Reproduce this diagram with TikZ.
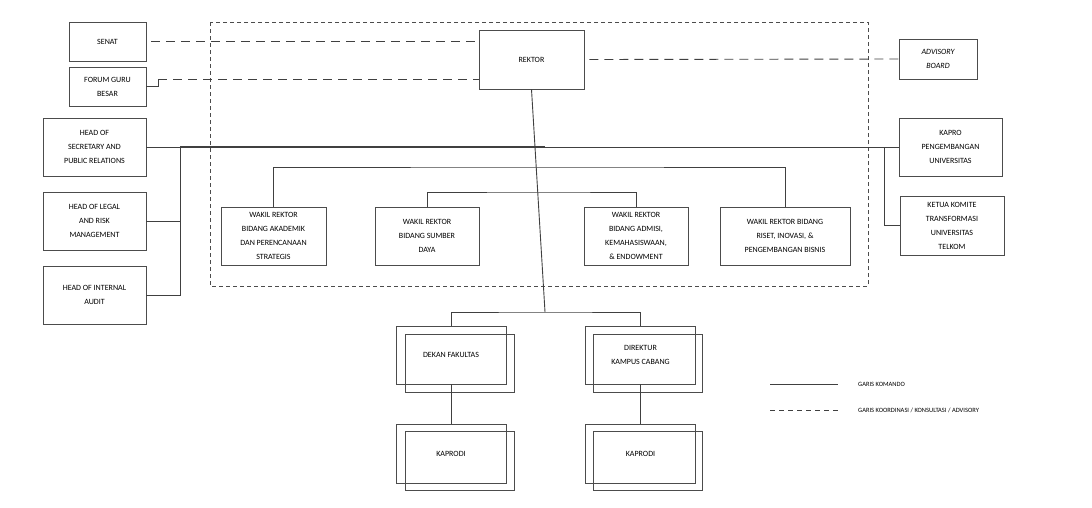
\documentclass[tikz,border=0pt]{standalone}
\usepackage{fontspec}
\setmainfont{Carlito}
\begin{document}
\begin{tikzpicture}[x=1pt,y=-1pt,
  box/.style={draw=black!70,line width=0.8pt,align=center,inner sep=1pt,font=\fontsize{8}{14}\selectfont},
  ln/.style={draw=black!75,line width=0.9pt},
  dsh/.style={draw=black!75,line width=0.9pt,dash pattern=on 9pt off 6pt}]
\useasboundingbox (0,0) rectangle (1092,507);
\draw[black!70,line width=0.8pt,dash pattern=on 4pt off 3pt] (210,22) rectangle (868,286);
\node[box,minimum width=77,minimum height=39] (senat) at (107.5,41.5) {SENAT};
\node[box,minimum width=77,minimum height=39] (forum) at (107.5,86.5) {FORUM GURU\\BESAR};
\node[box,minimum width=105,minimum height=59] (rektor) at (531.5,59.5) {REKTOR};
\node[box,minimum width=78,minimum height=40] (adv) at (938,59) {\itshape ADVISORY\\\itshape BOARD};
\node[box,minimum width=103,minimum height=58] (hsec) at (94.5,147) {HEAD OF\\SECRETARY AND\\PUBLIC RELATIONS};
\node[box,minimum width=103,minimum height=58] (hleg) at (94.5,221) {HEAD OF LEGAL\\AND RISK\\MANAGEMENT};
\node[box,minimum width=103,minimum height=58] (haud) at (94.5,295) {HEAD OF INTERNAL\\AUDIT};
\node[box,minimum width=103,minimum height=58] (kapro) at (950.5,147) {KAPRO\\PENGEMBANGAN\\UNIVERSITAS};
\node[box,minimum width=104,minimum height=59] (ketua) at (952,225.5) {KETUA KOMITE\\TRANSFORMASI\\UNIVERSITAS\\TELKOM};
\node[box,minimum width=105,minimum height=58] (wr1) at (273.5,236) {WAKIL REKTOR\\BIDANG AKADEMIK\\DAN PERENCANAAN\\STRATEGIS};
\node[box,minimum width=104,minimum height=58] (wr2) at (427,236) {WAKIL REKTOR\\BIDANG SUMBER\\DAYA};
\node[box,minimum width=104,minimum height=58] (wr3) at (636,236) {WAKIL REKTOR\\BIDANG ADMISI,\\KEMAHASISWAAN,\\\& ENDOWMENT};
\node[box,minimum width=130,minimum height=58] (wr4) at (785,236) {WAKIL REKTOR BIDANG\\RISET, INOVASI, \&\\PENGEMBANGAN BISNIS};
% double boxes
\node[box,minimum width=109,minimum height=58] (dekanb) at (459.5,363) {};
\node[box,minimum width=110,minimum height=58] (dekan) at (451,355) {DEKAN FAKULTAS};
\node[box,minimum width=109,minimum height=58] (direkb) at (648,363) {};
\node[box,minimum width=110,minimum height=58] (direk) at (640.5,355) {DIREKTUR\\KAMPUS CABANG};
\node[box,minimum width=109,minimum height=59] (kp1b) at (459.5,461) {};
\node[box,minimum width=110,minimum height=59] (kp1) at (451,453.5) {KAPRODI};
\node[box,minimum width=109,minimum height=59] (kp2b) at (648,461) {};
\node[box,minimum width=110,minimum height=59] (kp2) at (640.5,453.5) {KAPRODI};
% coordination lines
\draw[dsh] (senat.east) ++(5,0) -- (senat.east -| rektor.west);
\coordinate (fg) at (158,79);
\draw[ln,line width=0.7pt] (forum.east) -- (forum.east -| fg) -- (fg);
\draw[dsh] (fg) -- (fg -| rektor.west);
\draw[dsh] (rektor.east) ++(5,0) -- (adv.west);
% command lines
\coordinate (sv) at (180,147);
\coordinate (rk) at (545,147);
\draw[ln] (hsec.east) -- (sv);
\draw[ln] (sv) -- (sv |- haud.east) -- (haud.east);
\draw[ln] (hleg.east) -- (sv |- hleg.east);
\draw[ln,line width=1.6pt] (sv) -- (rk);
\draw[ln] (rk) -- (kapro.west);
\coordinate (kv) at (884,147);
\draw[ln] (kv) |- (ketua.west);
\coordinate (bt) at (545,312);
\draw[ln] (rektor.south) -- (bt);
\coordinate (w1) at (545,167);
\coordinate (w2) at (545,192);
\draw[ln] (wr1.north) |- (w1) -| (wr4.north);
\draw[ln] (wr2.north) |- (w2) -| (wr3.north);
\draw[ln] (dekan.north) |- (bt) -| (direk.north);
\draw[ln] (dekan.south) -- (kp1.north);
\draw[ln] (direk.south) -- (kp2.north);
% legend
\coordinate (l1a) at (770,384); \coordinate (l1b) at (838,384);
\coordinate (l2a) at (770,410); \coordinate (l2b) at (838,410);
\draw[ln] (l1a) -- (l1b);
\draw[ln,dash pattern=on 5pt off 4pt] (l2a) -- (l2b);
\node[anchor=west,font=\fontsize{6.5}{8}\selectfont,inner sep=0] (lg1) at (858,384) {GARIS KOMANDO};
\node[anchor=west,font=\fontsize{6.5}{8}\selectfont,inner sep=0] (lg2) at (858,410) {GARIS KOORDINASI / KONSULTASI / ADVISORY};
\end{tikzpicture}
\end{document}
